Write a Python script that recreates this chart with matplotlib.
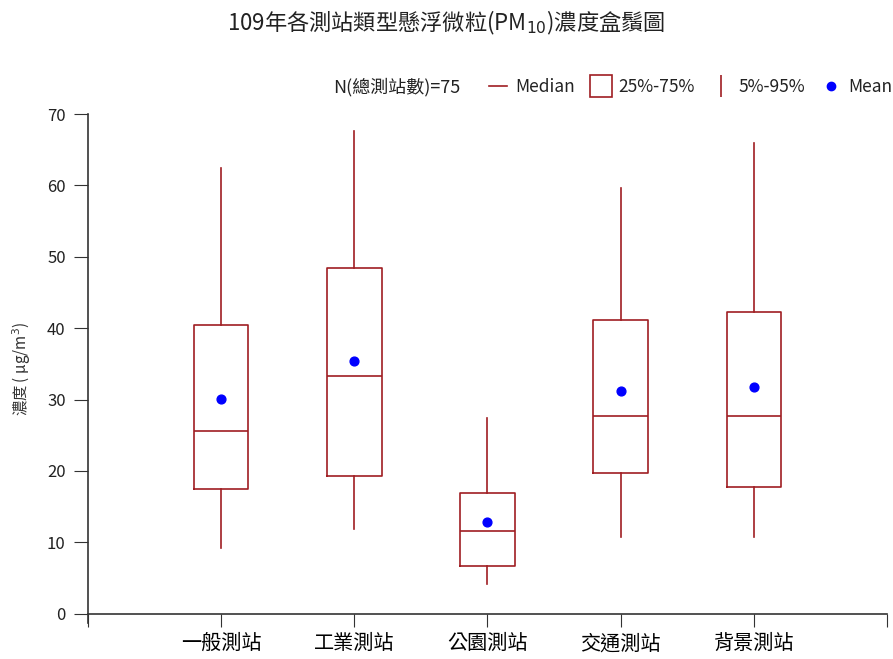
from matplotlib import pyplot as plt
from matplotlib.lines import Line2D

plt.rcParams['font.family'] = ['Noto Sans CJK TC', 'DejaVu Sans']

stations = ['一般測站', '工業測站', '公園測站', '交通測站', '背景測站']
p5 = [9.2, 11.9, 4.1, 10.8, 10.8]
q1 = [17.5, 19.3, 6.7, 19.7, 17.8]
median = [25.6, 33.3, 11.6, 27.7, 27.7]
q3 = [40.5, 48.4, 16.9, 41.2, 42.3]
p95 = [62.4, 67.6, 27.4, 59.6, 65.9]
mean = [30.1, 35.4, 12.9, 31.2, 31.8]

box_color = '#A01E22'

fig = plt.figure(figsize=(8.93, 6.59), dpi=100)
ax = fig.add_axes([0.0985, 0.0546, 0.8948, 0.7724])

stats = []
for i in range(len(stations)):
    stats.append({
        'whislo': p5[i], 'q1': q1[i], 'med': median[i],
        'q3': q3[i], 'whishi': p95[i], 'label': stations[i],
    })

ax.bxp(
    stats,
    positions=range(1, len(stations) + 1),
    widths=0.41,
    showcaps=False,
    showfliers=False,
    boxprops=dict(color=box_color, linewidth=1.2),
    whiskerprops=dict(color=box_color, linewidth=1.2),
    medianprops=dict(color=box_color, linewidth=1.2),
)
ax.scatter(range(1, len(stations) + 1), mean, color='#0000FF', s=40, zorder=5)

ax.set_xlim(0, 6)
ax.set_ylim(-1.3, 70)
ax.set_xticks(range(0, 7))
ax.set_xticklabels([''] + stations + [''])
ax.set_yticks(range(0, 71, 10))
ax.tick_params(axis='y', labelsize=12, length=10, pad=6, colors='#333333', labelcolor='#222222')
ax.tick_params(axis='x', labelsize=14.5, length=9, colors='#333333', labelcolor='black', pad=5)

ax.spines['top'].set_visible(False)
ax.spines['right'].set_visible(False)
ax.spines['bottom'].set_position(('data', 0))
ax.spines['left'].set_color('#333333')
ax.spines['bottom'].set_color('#333333')
ax.spines['left'].set_linewidth(1.2)
ax.spines['bottom'].set_linewidth(1.2)

ax.set_ylabel('濃度 ( μg/m$^3$)', fontsize=11, color='#333333', labelpad=10)

fig.text(0.50, 0.965, '109年各測站類型懸浮微粒(PM$_{10}$)濃度盒鬚圖',
         ha='center', va='center', fontsize=16, color='#222222')

fig.text(0.373, 0.868, 'N(總測站數)=75', ha='left', va='center',
         fontsize=13, color='#222222')

handles = [
    Line2D([], [], color=box_color, linewidth=1.2),
    Line2D([], [], linestyle='none', marker='s', markersize=16,
           markerfacecolor='none', markeredgecolor=box_color, markeredgewidth=1.2),
    Line2D([], [], linestyle='none', marker='|', markersize=16,
           color=box_color, markeredgewidth=1.2),
    Line2D([], [], linestyle='none', marker='o', markersize=6, color='#0000FF'),
]
labels = ['Median', '25%-75%', '5%-95%', 'Mean']
fig.legend(handles, labels, loc='center left', bbox_to_anchor=(0.548, 0.868),
           ncol=4, frameon=False, fontsize=12.5, handlelength=1.0,
           handletextpad=0.5, columnspacing=1.0, labelcolor='#222222',
           borderaxespad=0, borderpad=0)

plt.savefig('out.png', dpi=100)
